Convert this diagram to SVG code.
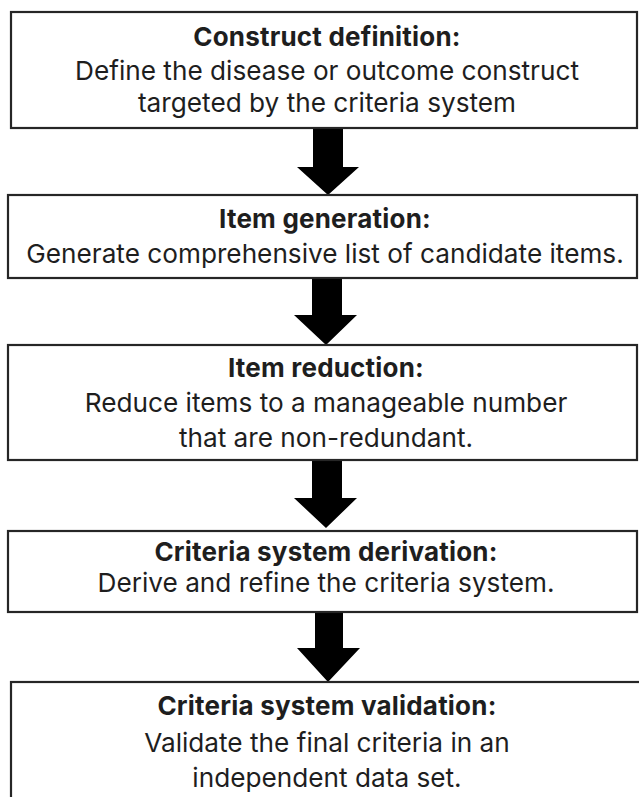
<svg xmlns="http://www.w3.org/2000/svg" width="639" height="797" viewBox="0 0 639 797">
<style>
.box{fill:#fff;stroke:#262626;stroke-width:2.2}
.t{font-family:Inter,"Open Sans",sans-serif;font-size:26.2px;fill:#1e1e1e;text-anchor:middle}
.b{font-weight:bold;font-size:26px;letter-spacing:0.2px}
.arr{fill:#000}
</style>
<rect width="639" height="797" fill="#fff"/>
<g id="connectors">
<polygon class="arr" points="313,129 343,129 343,167 359,167 328,195 297,167 313,167"/>
<polygon class="arr" points="312,279 342,279 342,315 357,315 326,345 294,315 312,315"/>
<polygon class="arr" points="312,461 342,461 342,498 357,498 326,528 294,498 312,498"/>
<polygon class="arr" points="315,613 343,613 343,648 360,648 328,682 297,648 315,648"/>
</g>
<g id="n1">
<rect class="box" x="11" y="12" width="626" height="116"/>
<text class="t b" x="327" y="46">Construct definition:</text>
<text class="t" x="327" y="80">Define the disease or outcome construct</text>
<text class="t" x="327" y="112">targeted by the criteria system</text>
</g>
<g id="n2">
<rect class="box" x="8" y="195" width="629" height="83"/>
<text class="t b" x="325" y="228">Item generation:</text>
<text class="t" x="325" y="263">Generate comprehensive list of candidate items.</text>
</g>
<g id="n3">
<rect class="box" x="8" y="345" width="629" height="115"/>
<text class="t b" x="326" y="377">Item reduction:</text>
<text class="t" x="326" y="412">Reduce items to a manageable number</text>
<text class="t" x="326" y="447">that are non-redundant.</text>
</g>
<g id="n4">
<rect class="box" x="8" y="531" width="629" height="81"/>
<text class="t b" x="326" y="561">Criteria system derivation:</text>
<text class="t" x="326" y="592">Derive and refine the criteria system.</text>
</g>
<g id="n5">
<rect class="box" x="11" y="682" width="632" height="130"/>
<text class="t b" x="327" y="715">Criteria system validation:</text>
<text class="t" x="327" y="752">Validate the final criteria in an</text>
<text class="t" x="327" y="787">independent data set.</text>
</g>
</svg>
